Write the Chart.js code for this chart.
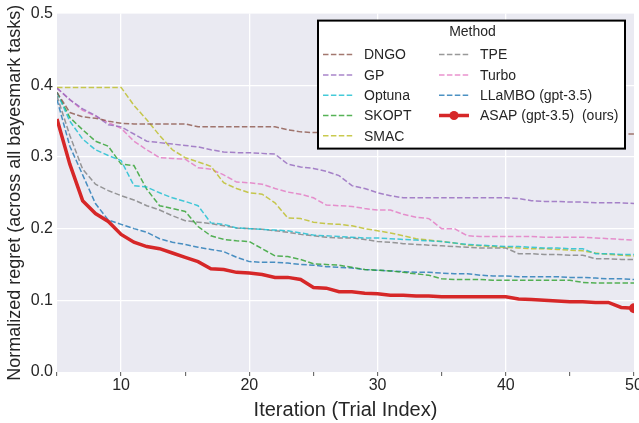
<!DOCTYPE html>
<html>
<head>
<meta charset="utf-8">
<script src="https://cdn.jsdelivr.net/npm/chart.js@4.4.0/dist/chart.umd.min.js"></script>
<style>
  html, body { margin: 0; padding: 0; background: #fff; }
  #wrap { width: 639px; height: 423px; }
</style>
</head>
<body>
<div id="wrap"><canvas id="regretChart" width="639" height="423"></canvas></div>
<script>
// Iteration index on the x axis
const iterations = [5, 6, 7, 8, 9, 10, 11, 12, 13, 14,
                    15, 16, 17, 18, 19, 20, 21, 22, 23, 24,
                    25, 26, 27, 28, 29, 30, 31, 32, 33, 34,
                    35, 36, 37, 38, 39, 40, 41, 42, 43, 44,
                    45, 46, 47, 48, 49, 50];

// Normalized regret per method
const dngo = [0.390, 0.362, 0.356, 0.354, 0.350, 0.347, 0.346, 0.346, 0.346, 0.346,
              0.346, 0.342, 0.342, 0.342, 0.342, 0.342, 0.342, 0.342, 0.338, 0.335,
              0.334, 0.334, 0.334, 0.334, 0.334, 0.334, 0.334, 0.334, 0.333, 0.333,
              0.333, 0.333, 0.333, 0.333, 0.333, 0.333, 0.333, 0.333, 0.333, 0.332,
              0.332, 0.332, 0.332, 0.332, 0.332, 0.332];
const gp = [0.396, 0.380, 0.367, 0.358, 0.345, 0.342, 0.332, 0.322, 0.320, 0.318,
            0.316, 0.314, 0.310, 0.307, 0.306, 0.306, 0.305, 0.304, 0.290, 0.286,
            0.284, 0.280, 0.274, 0.260, 0.256, 0.250, 0.246, 0.243, 0.243, 0.243,
            0.243, 0.243, 0.243, 0.243, 0.243, 0.243, 0.242, 0.239, 0.238, 0.238,
            0.237, 0.237, 0.236, 0.236, 0.236, 0.235];
const optuna = [0.390, 0.350, 0.325, 0.310, 0.302, 0.295, 0.260, 0.258, 0.250, 0.243,
                0.238, 0.232, 0.208, 0.206, 0.201, 0.200, 0.199, 0.198, 0.197, 0.194,
                0.191, 0.190, 0.189, 0.188, 0.187, 0.187, 0.186, 0.185, 0.184, 0.183,
                0.182, 0.180, 0.178, 0.177, 0.176, 0.175, 0.175, 0.174, 0.173, 0.173,
                0.172, 0.172, 0.165, 0.165, 0.164, 0.164];
const skopt = [0.390, 0.355, 0.338, 0.322, 0.315, 0.290, 0.288, 0.255, 0.232, 0.228,
               0.224, 0.203, 0.190, 0.185, 0.183, 0.182, 0.172, 0.162, 0.161, 0.157,
               0.151, 0.150, 0.149, 0.146, 0.143, 0.142, 0.141, 0.139, 0.137, 0.135,
               0.130, 0.129, 0.129, 0.129, 0.128, 0.128, 0.128, 0.128, 0.128, 0.128,
               0.128, 0.125, 0.124, 0.124, 0.124, 0.124];
const smac = [0.397, 0.397, 0.397, 0.397, 0.397, 0.397, 0.372, 0.352, 0.330, 0.310,
              0.299, 0.293, 0.287, 0.264, 0.256, 0.250, 0.248, 0.236, 0.215, 0.214,
              0.209, 0.207, 0.206, 0.204, 0.200, 0.197, 0.194, 0.190, 0.186, 0.184,
              0.182, 0.180, 0.177, 0.176, 0.175, 0.174, 0.173, 0.172, 0.172, 0.171,
              0.170, 0.169, 0.166, 0.164, 0.163, 0.162];
const tpe = [0.385, 0.330, 0.283, 0.262, 0.253, 0.246, 0.240, 0.232, 0.226, 0.218,
             0.211, 0.209, 0.207, 0.204, 0.201, 0.200, 0.199, 0.197, 0.195, 0.192,
             0.190, 0.188, 0.187, 0.187, 0.185, 0.182, 0.181, 0.179, 0.178, 0.177,
             0.176, 0.175, 0.174, 0.173, 0.173, 0.173, 0.165, 0.165, 0.164, 0.164,
             0.163, 0.163, 0.158, 0.158, 0.157, 0.157];
const turbo = [0.396, 0.380, 0.365, 0.357, 0.348, 0.340, 0.322, 0.310, 0.299, 0.298,
               0.297, 0.285, 0.283, 0.275, 0.265, 0.264, 0.262, 0.256, 0.251, 0.248,
               0.243, 0.233, 0.232, 0.231, 0.228, 0.226, 0.226, 0.220, 0.216, 0.214,
               0.200, 0.200, 0.190, 0.189, 0.189, 0.189, 0.189, 0.189, 0.188, 0.188,
               0.188, 0.188, 0.187, 0.186, 0.185, 0.184];
const llambo = [0.380, 0.315, 0.275, 0.235, 0.212, 0.206, 0.200, 0.195, 0.186, 0.181,
                0.178, 0.174, 0.171, 0.168, 0.160, 0.154, 0.153, 0.153, 0.152, 0.150,
                0.149, 0.147, 0.146, 0.145, 0.143, 0.142, 0.141, 0.140, 0.139, 0.139,
                0.138, 0.137, 0.137, 0.135, 0.134, 0.134, 0.133, 0.133, 0.133, 0.133,
                0.132, 0.132, 0.131, 0.130, 0.130, 0.129];
const asap = [0.353, 0.290, 0.239, 0.221, 0.210, 0.192, 0.181, 0.175, 0.172, 0.166,
              0.160, 0.154, 0.144, 0.143, 0.139, 0.138, 0.136, 0.132, 0.132, 0.129,
              0.118, 0.117, 0.112, 0.112, 0.110, 0.109, 0.107, 0.107, 0.106, 0.106,
              0.105, 0.105, 0.105, 0.105, 0.105, 0.105, 0.102, 0.101, 0.100, 0.099,
              0.098, 0.098, 0.097, 0.097, 0.090, 0.089];

const yTicks = [0.0, 0.1, 0.2, 0.3, 0.4, 0.5];
const xLabelTicks = [10, 20, 30, 40, 50];

const FONT = "'Liberation Sans', Arial, sans-serif";
const TEXT = '#262626';

const toPoints = (ys) => iterations.map((x, i) => ({ x: x, y: ys[i] }));

const baseline = (label, ys, color) => ({
    label: label,
    data: toPoints(ys),
    borderColor: color,
    backgroundColor: color,
    borderWidth: 1.5,
    borderDash: [5.5, 2.4],
    pointRadius: 0,
    fill: false,
    clip: 0,
    order: 1
});

const datasets = [
    baseline('DNGO', dngo, 'rgba(140,86,75,0.8)'),
    baseline('GP', gp, 'rgba(148,103,189,0.8)'),
    baseline('Optuna', optuna, 'rgba(23,190,207,0.8)'),
    baseline('SKOPT', skopt, 'rgba(44,160,44,0.8)'),
    baseline('SMAC', smac, 'rgba(188,189,34,0.8)'),
    baseline('TPE', tpe, 'rgba(127,127,127,0.8)'),
    baseline('Turbo', turbo, 'rgba(227,119,194,0.8)'),
    baseline('LLaMBO (gpt-3.5)', llambo, 'rgba(31,119,180,0.8)'),
    {
        label: 'ASAP (gpt-3.5)  (ours)',
        data: toPoints(asap),
        borderColor: '#d62728',
        backgroundColor: '#d62728',
        borderWidth: 3.5,
        pointRadius: ctx => ctx.dataIndex === asap.length - 1 ? 5 : 0,
        pointBorderWidth: 0,
        fill: false,
        clip: 0,
        order: 0
    }
];

// grey-blue plot face like seaborn darkgrid
const plotFace = {
    id: 'plotFace',
    beforeDraw(chart) {
        const a = chart.chartArea;
        const c = chart.ctx;
        c.save();
        c.fillStyle = '#EAEAF2';
        c.fillRect(a.left, a.top, a.right - a.left, a.bottom - a.top);
        c.restore();
    }
};

// boxed legend with title and two columns, drawn inside the plot
const methodLegend = {
    id: 'methodLegend',
    afterDraw(chart) {
        const a = chart.chartArea;
        const c = chart.ctx;
        const sets = chart.data.datasets;
        const w = 307, h = 128;
        const x0 = a.right - 9 - w, y0 = a.top + 7;
        c.save();
        c.fillStyle = '#ffffff';
        c.fillRect(x0, y0, w, h);
        c.lineWidth = 2;
        c.strokeStyle = '#000000';
        c.strokeRect(x0, y0, w, h);

        c.font = '14px ' + FONT;
        c.fillStyle = TEXT;
        c.textBaseline = 'middle';
        c.textAlign = 'center';
        c.fillText('Method', x0 + w / 2 + 1, y0 + 12);

        c.textAlign = 'left';
        const rowH = 20.3;
        sets.forEach((ds, i) => {
            const col = i < 5 ? 0 : 1;
            const row = i < 5 ? i : i - 5;
            const lx = x0 + 5 + col * 116;
            const ly = y0 + 34 + row * rowH;
            c.strokeStyle = ds.borderColor;
            c.lineWidth = ds.borderWidth;
            c.setLineDash(ds.borderDash || []);
            c.beginPath();
            c.moveTo(lx, ly);
            c.lineTo(lx + 30, ly);
            c.stroke();
            c.setLineDash([]);
            if (ds.order === 0) {
                c.fillStyle = ds.borderColor;
                c.beginPath();
                c.arc(lx + 15, ly, 4.5, 0, Math.PI * 2);
                c.fill();
            }
            c.fillStyle = TEXT;
            c.fillText(ds.label, lx + 41, ly + 1);
        });
        c.restore();
    }
};

const ctx = document.getElementById('regretChart').getContext('2d');
const regretChart = new Chart(ctx, {
    type: 'line',
    data: { datasets: datasets },
    plugins: [plotFace, methodLegend],
    options: {
        responsive: false,
        animation: false,
        devicePixelRatio: 1,
        layout: { padding: { top: 12, right: 5, left: 0, bottom: 0 } },
        plugins: {
            legend: { display: false },
            tooltip: { enabled: false }
        },
        scales: {
            x: {
                type: 'linear',
                min: 5,
                max: 50,
                afterFit: scale => {
                    scale.height = 51;
                    scale.paddingLeft = 0;
                    scale.paddingRight = 0;
                },
                afterBuildTicks: scale => {
                    scale.ticks = iterations.filter(v => v % 5 === 0).map(v => ({ value: v }));
                },
                border: { display: false },
                grid: {
                    color: c => (xLabelTicks.includes(c.tick.value) && c.tick.value !== 50) ? '#ffffff' : 'rgba(0,0,0,0)',
                    lineWidth: 1.3,
                    drawTicks: true,
                    tickLength: 4,
                    tickColor: '#555555',
                    tickWidth: 1
                },
                ticks: {
                    autoSkip: false,
                    maxRotation: 0,
                    padding: 0,
                    color: TEXT,
                    font: { family: FONT, size: 16 },
                    callback: v => xLabelTicks.includes(v) ? String(v) : ''
                },
                title: {
                    display: true,
                    text: 'Iteration (Trial Index)',
                    color: TEXT,
                    font: { family: FONT, size: 20 },
                    padding: { top: 0, bottom: 1 }
                }
            },
            y: {
                min: 0,
                max: 0.5,
                afterFit: scale => { scale.width = 57; },
                afterBuildTicks: scale => {
                    scale.ticks = yTicks.map(v => ({ value: v }));
                },
                border: { display: false },
                grid: {
                    color: c => (c.tick.value > 0 && c.tick.value < 0.5) ? '#ffffff' : 'rgba(0,0,0,0)',
                    lineWidth: 1.3,
                    drawTicks: false
                },
                ticks: {
                    padding: 4,
                    color: TEXT,
                    font: { family: FONT, size: 16 },
                    callback: v => Number(v).toFixed(1)
                },
                title: {
                    display: true,
                    text: 'Normalized regret (across all bayesmark tasks)',
                    color: TEXT,
                    font: { family: FONT, size: 18 },
                    padding: { top: 4, bottom: 0 }
                }
            }
        }
    }
});
</script>
</body>
</html>
